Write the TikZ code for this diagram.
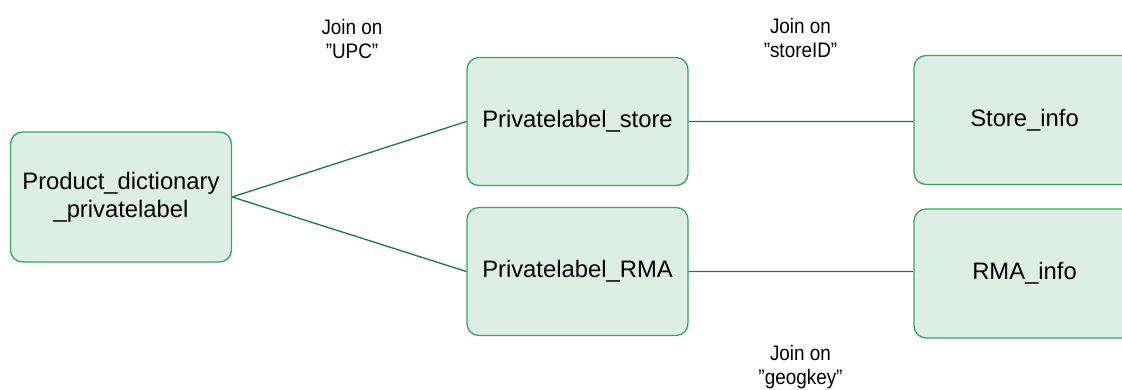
\documentclass[tikz,border=0pt]{standalone}
\usepackage{fontspec}
\setmainfont{Liberation Sans}
\newfontfamily\condfont[FakeStretch=0.9]{Liberation Sans}
\definecolor{boxfill}{HTML}{DDEEE4}
\definecolor{boxline}{HTML}{3AA563}
\definecolor{joinline}{HTML}{1A7A43}
\begin{document}
\begin{tikzpicture} [x=1pt, y=-1pt]
\tikzstyle{tablebox}=[draw=boxline, fill=boxfill, line width=1.3pt, rounded corners=12pt, align=center, font=\fontsize{23.8}{28}\selectfont, inner sep=0pt];
\tikzstyle{joinlabel}=[align=center, font=\condfont\fontsize{21}{23.5}\selectfont];
\useasboundingbox (0,0) rectangle (1122,390);
\clip (0,0) rectangle (1122,390);
\node [tablebox, minimum width=221pt, minimum height=130pt] (dict) at (121,197) {Product\_dictionary\\\_privatelabel};
\node [tablebox, minimum width=221pt, minimum height=128pt] (plstore) at (577.5,121.5) {Privatelabel\_store};
\node [tablebox, minimum width=221pt, minimum height=128pt] (plrma) at (577.5,271.5) {Privatelabel\_RMA};
\node [tablebox, minimum width=221pt, minimum height=129pt] (store) at (1024.5,120) {Store\_info};
\node [tablebox, minimum width=221pt, minimum height=129pt] (rma) at (1024.5,273.5) {RMA\_info};
\node [joinlabel] (upc) at (352,39) {Join on\\”UPC”};
\node [joinlabel] (storeid) at (800.5,38) {Join on\\”storeID”};
\node [joinlabel] (geokey) at (800.5,367) {Join on\\”geogkey”};
\draw [joinline, line width=1.3pt] (dict.east) -- (plstore.west) % joins
(dict.east) -- (plrma.west)
(plstore.east) -- (plstore.east -| store.west)
(plrma.east) -- (plrma.east -| rma.west);
\end{tikzpicture}
\end{document}
